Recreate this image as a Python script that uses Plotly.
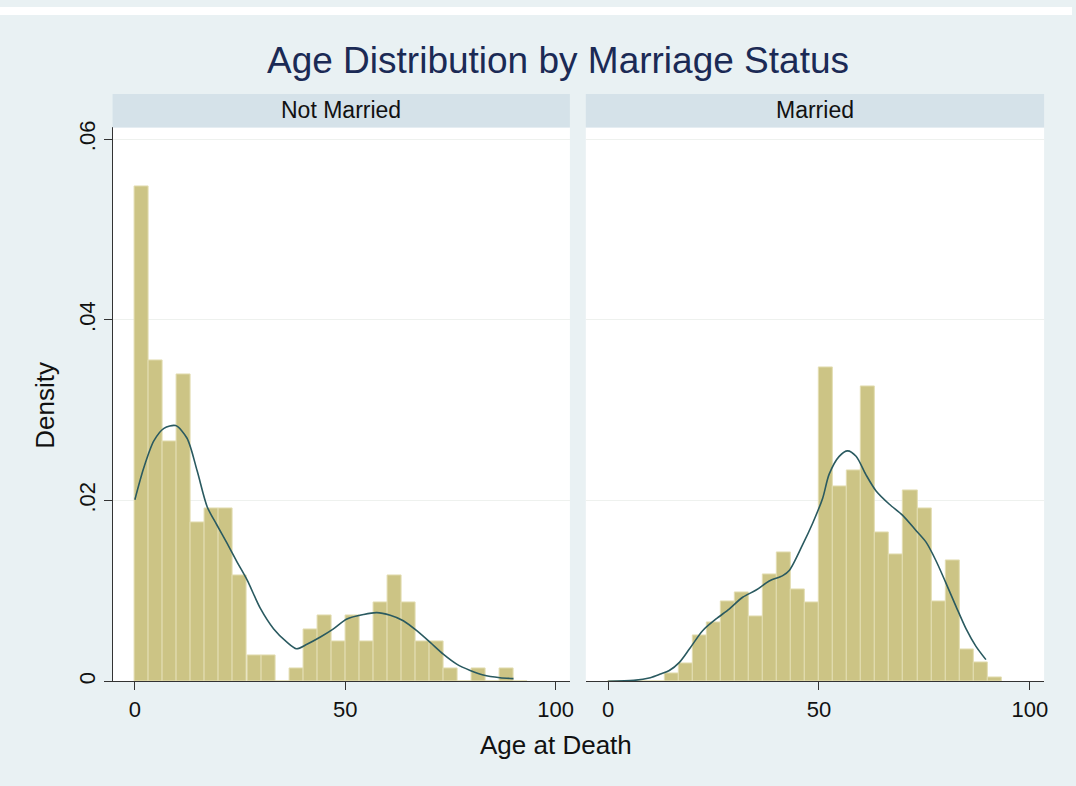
import plotly.graph_objects as go

# ---------------- data ----------------
bin_width = 10 / 3
age_bins = [0, 3.33, 6.67, 10, 13.33, 16.67, 20, 23.33, 26.67, 30, 33.33, 36.67, 40, 43.33,
            46.67, 50, 53.33, 56.67, 60, 63.33, 66.67, 70, 73.33, 76.67, 80, 83.33, 86.67, 90]

not_married_density = [0.0548, 0.0355, 0.0265, 0.0340, 0.0176, 0.0191, 0.0191, 0.0117,
                       0.00285, 0.00285, 0.0, 0.00139, 0.00577, 0.0073, 0.00438, 0.0073,
                       0.00438, 0.00876, 0.0117, 0.00876, 0.00438, 0.00438, 0.00139, 0.0,
                       0.00139, 0.0, 0.00139, 0.0]

married_density = [0.0, 0.0, 0.0, 0.0, 0.0009, 0.0020, 0.0051, 0.0065, 0.0088, 0.0098,
                   0.0072, 0.0118, 0.0143, 0.0102, 0.0087, 0.0347, 0.0216, 0.0233, 0.0326,
                   0.0165, 0.0140, 0.0211, 0.0191, 0.0088, 0.0134, 0.0035, 0.0021, 0.0004]

kde_nm_age = [0, 2.1, 4.5, 6.9, 9.7, 12.4, 14.8, 17.2, 19.5, 21.9, 24.3, 26.7, 29.8, 33.0,
              36.2, 38.4, 40.9, 44.1, 47.2, 50.4, 54.4, 57.5, 60.7, 63.8, 67.0, 70.2, 73.3,
              76.5, 79.7, 82.8, 86.8, 90.0]
kde_nm_density = [0.0201, 0.0236, 0.0266, 0.0280, 0.0283, 0.0269, 0.0233, 0.0193, 0.0173,
                  0.0153, 0.0132, 0.0112, 0.0081, 0.0058, 0.0043, 0.0036, 0.0041, 0.0049,
                  0.0058, 0.0069, 0.0074, 0.0076, 0.0073, 0.0067, 0.0056, 0.0043, 0.0030,
                  0.0019, 0.0012, 0.0007, 0.0004, 0.0003]

kde_m_age = [0, 6.1, 10.0, 12.4, 14.5, 16.9, 19.3, 22.4, 25.6, 28.7, 31.9, 35.1, 38.2, 41.4,
             43.0, 46.1, 48.5, 50.9, 52.4, 54.8, 56.8, 58.8, 61.1, 63.5, 66.7, 69.8, 73.0,
             75.4, 77.7, 80.1, 82.5, 84.9, 87.2, 89.6]
kde_m_density = [0.0, 0.0001, 0.0004, 0.0008, 0.0012, 0.0021, 0.0036, 0.0056, 0.0069, 0.0080,
                 0.0093, 0.0101, 0.0111, 0.0117, 0.0123, 0.0151, 0.0175, 0.0203, 0.0229,
                 0.0249, 0.0255, 0.0249, 0.0229, 0.0211, 0.0196, 0.0184, 0.0167, 0.0154,
                 0.0134, 0.0109, 0.0083, 0.0058, 0.0039, 0.0024]

panel_labels = ["Not Married", "Married"]
y_ticks = [0, 0.02, 0.04, 0.06]
y_tick_text = ["0", ".02", ".04", ".06"]
x_ticks = [0, 50, 100]
x_tick_text = ["0", "50", "100"]

# ---------------- styling ----------------
W, H = 1076, 786
BG = "#E9F1F3"
BAND = "#D5E2E9"
BAR = "#CCC485"
BAR_EDGE = "#E3DDB2"
LINE = "#2A5A60"
FONT = "Liberation Sans, Arial, Helvetica, sans-serif"


def px(x):
    return x / W


def py(y):
    return 1 - y / H


panels = [(113, 572), (588, 1048)]
plot_top, plot_bottom = 122, 683

fig = go.Figure()

for i, (dens, kx, ky) in enumerate([(not_married_density, kde_nm_age, kde_nm_density),
                                     (married_density, kde_m_age, kde_m_density)]):
    xa = "x" if i == 0 else "x2"
    ya = "y" if i == 0 else "y2"
    fig.add_trace(go.Bar(x=age_bins, y=dens, width=bin_width, offset=0,
                         marker=dict(color=BAR, line=dict(color=BAR_EDGE, width=1)),
                         xaxis=xa, yaxis=ya, showlegend=False, hoverinfo="skip"))
    fig.add_trace(go.Scatter(x=kx, y=ky, mode="lines",
                             line=dict(color=LINE, width=1.6, shape="spline", smoothing=0.8),
                             xaxis=xa, yaxis=ya, showlegend=False, hoverinfo="skip"))

xr = [-5.3, 103.4]
yr = [0, 0.0613]
common_x = dict(range=xr, tickvals=x_ticks, ticktext=x_tick_text, ticks="outside", ticklen=8,
                tickcolor="#333333", showline=True, linecolor="#333333", linewidth=1,
                showgrid=False, zeroline=False, tickfont=dict(size=22, color="#111111", family=FONT))

fig.update_layout(
    width=W, height=H,
    margin=dict(l=0, r=0, t=0, b=0),
    paper_bgcolor=BG, plot_bgcolor="white",
    bargap=0,
    xaxis=dict(domain=[px(panels[0][0]), px(panels[0][1])], anchor="y", **common_x),
    xaxis2=dict(domain=[px(panels[1][0]), px(panels[1][1])], anchor="y2", **common_x),
    yaxis=dict(domain=[py(plot_bottom), py(plot_top)], range=yr, anchor="x",
               tickvals=y_ticks, ticktext=y_tick_text, ticks="outside", ticklen=8,
               tickcolor="#333333", showline=True, linecolor="#333333", linewidth=1,
               tickangle=-90, showgrid=True, gridcolor="#EEF1EE", gridwidth=1,
               zeroline=False, tickfont=dict(size=22, color="#111111", family=FONT)),
    yaxis2=dict(domain=[py(plot_bottom), py(plot_top)], range=yr, anchor="x2",
                tickvals=y_ticks, showticklabels=False, ticks="", showline=False,
                showgrid=True, gridcolor="#EEF1EE", gridwidth=1, zeroline=False),
    font=dict(family=FONT),
)

shapes = []
# white strip at the very top
shapes.append(dict(type="rect", xref="paper", yref="paper", x0=0, x1=1, y0=py(8), y1=1,
                   fillcolor="white", line=dict(width=0), layer="below"))
for (x0, x1) in panels:
    shapes.append(dict(type="rect", xref="paper", yref="paper", x0=px(x0), x1=px(x1),
                       y0=py(122), y1=py(88), fillcolor=BAND, line=dict(width=0)))
fig.update_layout(shapes=shapes)

annotations = [
    dict(text="Age Distribution by Marriage Status", x=px(560), y=py(54), xref="paper", yref="paper",
         showarrow=False, font=dict(size=37, color="#1B2A55", family=FONT), xanchor="center", yanchor="middle"),
    dict(text="Density", x=px(45), y=py(403), xref="paper", yref="paper", textangle=-90,
         showarrow=False, font=dict(size=26, color="#111111", family=FONT), xanchor="center", yanchor="middle"),
    dict(text="Age at Death", x=px(558), y=py(748), xref="paper", yref="paper",
         showarrow=False, font=dict(size=26, color="#111111", family=FONT), xanchor="center", yanchor="middle"),
]
for (x0, x1), lab in zip(panels, panel_labels):
    annotations.append(dict(text=lab, x=px((x0 + x1) / 2), y=py(104), xref="paper", yref="paper",
                            showarrow=False, font=dict(size=23, color="#111111", family=FONT),
                            xanchor="center", yanchor="middle"))
fig.update_layout(annotations=annotations)

fig.write_html("out.html", config={"displayModeBar": False},
               post_script="document.body.style.margin='0';")
